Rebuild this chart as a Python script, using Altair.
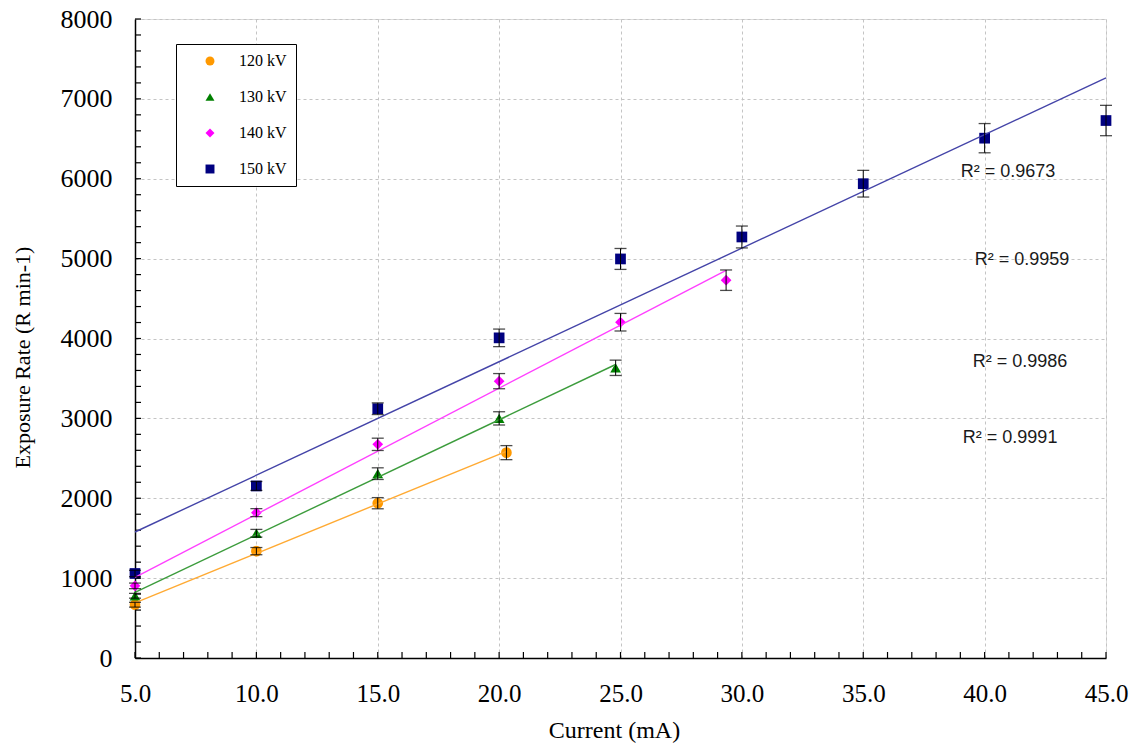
import altair as alt
import pandas as pd

# ---------------- data ----------------
series = ["120 kV", "130 kV", "140 kV", "150 kV"]

x120 = [5, 10, 15, 20.3]
y120 = [667, 1338, 1938, 2571]
e120 = [30, 45, 70, 88]

x130 = [5, 10, 15, 20, 24.8]
y130 = [779, 1562, 2308, 3000, 3633]
e130 = [30, 48, 73, 83, 96]

x140 = [5, 10, 15, 20, 25, 29.35]
y140 = [903, 1820, 2675, 3466, 4204, 4730]
e140 = [35, 50, 77, 95, 110, 128]

x150 = [5, 10, 15, 20, 25, 30, 35, 40, 45]
y150 = [1058, 2154, 3121, 4008, 4996, 5271, 5938, 6508, 6729]
e150 = [40, 56, 73, 110, 131, 137, 167, 183, 190]

r2_text = ["R\u00b2 = 0.9673", "R\u00b2 = 0.9959", "R\u00b2 = 0.9986", "R\u00b2 = 0.9991"]
r2_x = [40.96, 41.54, 41.46, 41.05]
r2_y = [6085, 4982, 3706, 2754]

x_major = [5, 10, 15, 20, 25, 30, 35, 40, 45]
x_minor = list(range(5, 46))
y_major = [0, 1000, 2000, 3000, 4000, 5000, 6000, 7000, 8000]
y_minor = list(range(0, 8001, 200))

marker_colors = ["#FF9900", "#008000", "#FF00FF", "#000080"]
line_colors = ["#FFAA33", "#3C9C3C", "#FF40FF", "#4444A8"]
shapes = ["circle", "triangle-up", "diamond", "square"]

# ---------------- tables ----------------
rows = []
for name, xs, ys, es in zip(series, [x120, x130, x140, x150],
                            [y120, y130, y140, y150], [e120, e130, e140, e150]):
    for xv, yv, ev in zip(xs, ys, es):
        rows.append({"series": name, "x": xv, "y": yv, "e": ev})
df = pd.DataFrame(rows)
df_r2 = pd.DataFrame({"label": r2_text, "x": r2_x, "y": r2_y})
df_xminor = pd.DataFrame({"x": x_minor})
df_yminor = pd.DataFrame({"y": y_minor})

SERIF = "Liberation Serif"
xscale = alt.Scale(domain=[5, 45], nice=False, zero=False)
yscale = alt.Scale(domain=[0, 8000], nice=False)

XAX = alt.Axis(values=x_major, format=".1f", grid=True, ticks=False,
               domainColor="black", domainWidth=1.5, labelFlush=False,
               gridColor="#c4c4c4", gridDash=[3, 3], gridWidth=1,
               labelFont=SERIF, labelFontSize=25, labelColor="black",
               labelPadding=23, title="Current (mA)", titleFont=SERIF,
               titleFontSize=24, titleFontWeight="normal", titleColor="black",
               titleX=479, titleY=72, titleBaseline="middle", orient="bottom")
YAX = alt.Axis(values=y_major, format="d", grid=True, ticks=False,
               domainColor="black", domainWidth=1.5, labelFlush=False,
               gridColor="#c4c4c4", gridDash=[3, 3], gridWidth=1,
               labelFont=SERIF, labelFontSize=26, labelFontWeight="normal",
               labelColor="black", labelPadding=23,
               title="Exposure Rate (R min-1)", titleFont=SERIF,
               titleFontSize=22, titleFontWeight="normal", titleColor="black",
               titleX=-113, titleY=338, titleAngle=270, titleAlign="center",
               titleBaseline="middle", orient="left")


def X(field):
    return alt.X(field, scale=xscale, axis=XAX)


def Y(field):
    return alt.Y(field, scale=yscale, axis=YAX)


legend_opts = dict(title=None, orient="none", legendX=41, legendY=25,
                   strokeColor="black", fillColor="white", padding=9,
                   symbolOffset=17, labelOffset=21, rowPadding=20,
                   symbolSize=80, symbolStrokeWidth=0,
                   labelFont=SERIF, labelFontSize=16, labelColor="black")

base = alt.Chart(df)

points = base.mark_point(filled=True, size=115, opacity=1, strokeWidth=0).encode(
    x=X("x:Q"), y=Y("y:Q"),
    color=alt.Color("series:N", scale=alt.Scale(domain=series, range=marker_colors),
                    legend=alt.Legend(**legend_opts)),
    shape=alt.Shape("series:N", scale=alt.Scale(domain=series, range=shapes),
                    legend=alt.Legend(**legend_opts)),
)

# inner minor tick marks along the axes
xticks = alt.Chart(df_xminor).mark_rule(color="black", strokeWidth=1.2).encode(
    x=X("x:Q"), y=alt.value(639), y2=alt.value(633),
)
yticks = alt.Chart(df_yminor).mark_rule(color="black", strokeWidth=1.2).encode(
    y=Y("y:Q"), x=alt.value(0), x2=alt.value(6),
)

lines = base.transform_regression(
    "x", "y", groupby=["series"]
).mark_line(strokeWidth=1.4).encode(
    x=X("x:Q"), y=Y("y:Q"),
    stroke=alt.Stroke("series:N", scale=alt.Scale(domain=series, range=line_colors), legend=None),
)

err = base.transform_calculate(lo="datum.y - datum.e", hi="datum.y + datum.e")
err_rule = err.mark_rule(color="black", strokeWidth=1).encode(
    x=X("x:Q"), y=Y("lo:Q"), y2="hi:Q",
)
cap_lo = err.mark_tick(color="black", orient="horizontal", size=12, thickness=1.3).encode(
    x=X("x:Q"), y=Y("lo:Q"),
)
cap_hi = err.mark_tick(color="black", orient="horizontal", size=12, thickness=1.3).encode(
    x=X("x:Q"), y=Y("hi:Q"),
)

r2 = alt.Chart(df_r2).mark_text(font="Liberation Sans", fontSize=18, color="#1a1a1a",
                                 align="center", baseline="middle").encode(
    x=X("x:Q"), y=Y("y:Q"), text="label:N",
)

chart = alt.layer(points, xticks, yticks, lines, err_rule, cap_lo, cap_hi, r2).properties(
    width=971, height=639,
    autosize=alt.AutoSizeParams(type="none"),
    padding={"left": 135, "top": 19, "right": 30, "bottom": 86},
).configure_view(
    stroke="#8c8c8c", strokeWidth=2
).configure(background="white")

chart.save("out.html", embed_options={"renderer": "svg", "actions": False})
